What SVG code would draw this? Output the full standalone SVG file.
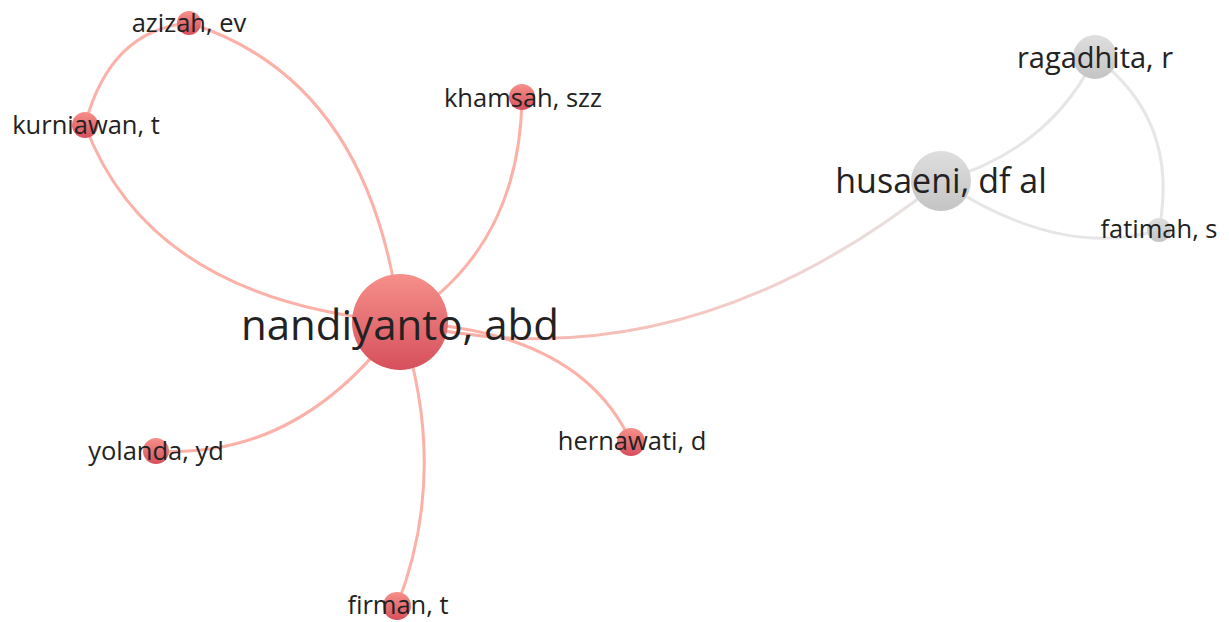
<svg xmlns="http://www.w3.org/2000/svg" width="1229" height="622" viewBox="0 0 1229 622">
<style>
.e{fill:none;stroke-width:3;stroke-linecap:round}
.r{stroke:#fba89f;opacity:0.9}
.g{stroke:#e6e6e6}
.t{font-family:"Open Sans","Noto Sans","DejaVu Sans",sans-serif;fill:#222;text-anchor:middle;dominant-baseline:central}
.s{font-size:25.5px}
.rn{fill:url(#rg)}
.gn{fill:url(#gg)}
</style>
<defs>
<linearGradient id="rg" x1="0" y1="0" x2="0" y2="1">
<stop offset="0" stop-color="#f6908a"/>
<stop offset="1" stop-color="#d6505d"/>
</linearGradient>
<linearGradient id="gg" x1="0" y1="0" x2="0" y2="1">
<stop offset="0" stop-color="#dedede"/>
<stop offset="1" stop-color="#c4c4c4"/>
</linearGradient>
<linearGradient id="rgl" gradientUnits="userSpaceOnUse" x1="400" y1="322" x2="941" y2="181">
<stop offset="0" stop-color="#fba89f"/>
<stop offset="0.5" stop-color="#f4c6c2"/>
<stop offset="1" stop-color="#e6e6e6"/>
</linearGradient>
</defs>
<g id="connectors">
<path class="e r" d="M189,23 Q370,80 400,322"/>
<path class="e r" d="M85,125 Q150,300 400,322"/>
<path class="e r" d="M189,23 Q110,30 85,125"/>
<path class="e r" d="M522,97 Q520,250 400,322"/>
<path class="e" stroke="url(#rgl)" d="M400,322 Q680,390 941,181"/>
<path class="e r" d="M400,322 Q300,460 156,451"/>
<path class="e r" d="M400,322 Q450,470 397,606"/>
<path class="e r" d="M400,322 Q580,330 631,442"/>
<path class="e g" d="M941,181 Q1050,150 1095,57"/>
<path class="e g" d="M941,181 Q1060,260 1159,230"/>
<path class="e g" d="M1095,57 Q1180,120 1159,230"/>
</g>
<g id="node-nandiyanto"><circle class="rn" cx="400" cy="322" r="48"/><text class="t" x="400" y="323" font-size="42">nandiyanto, abd</text></g>
<g id="node-azizah"><circle class="rn" cx="189" cy="23" r="12"/><text class="t s" x="189" y="22">azizah, ev</text></g>
<g id="node-kurniawan"><circle class="rn" cx="85" cy="125" r="13"/><text class="t s" x="86" y="124">kurniawan, t</text></g>
<g id="node-khamsah"><circle class="rn" cx="522" cy="97" r="13"/><text class="t s" x="523" y="97">khamsah, szz</text></g>
<g id="node-yolanda"><circle class="rn" cx="156" cy="451" r="13"/><text class="t s" x="156" y="450">yolanda, yd</text></g>
<g id="node-firman"><circle class="rn" cx="397" cy="606" r="14"/><text class="t s" x="398" y="604">firman, t</text></g>
<g id="node-hernawati"><circle class="rn" cx="631" cy="442" r="14"/><text class="t s" x="632" y="440">hernawati, d</text></g>
<g id="node-husaeni"><circle class="gn" cx="941" cy="181" r="30"/><text class="t" x="941" y="180" font-size="34">husaeni, df al</text></g>
<g id="node-ragadhita"><circle class="gn" cx="1095" cy="57" r="22"/><text class="t" x="1095" y="56" font-size="29">ragadhita, r</text></g>
<g id="node-fatimah"><circle class="gn" cx="1159" cy="230" r="12"/><text class="t s" x="1159" y="228">fatimah, s</text></g>
</svg>
